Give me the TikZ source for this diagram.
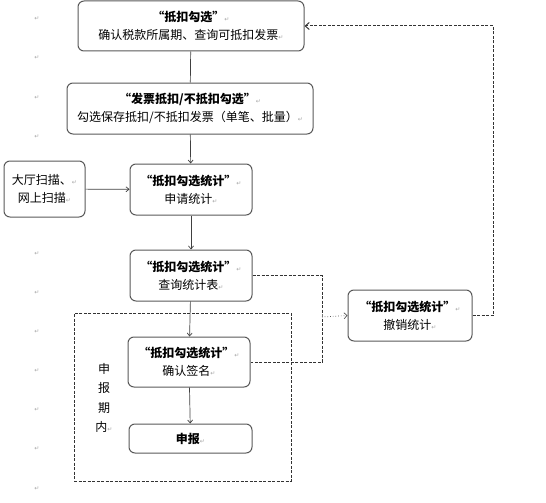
\documentclass[tikz,border=0pt]{standalone}
\usepackage{fontspec}
\setmainfont{Noto Sans CJK SC}
\newfontfamily\markfont{DejaVu Sans}
\usetikzlibrary{arrows.meta}
\newcommand\enterm{{\markfont\fontsize{6}{6}\selectfont\color{gray!70}↵}}
\begin{document}
\begin{tikzpicture}[x=1pt, y=-1pt,
        box/.style={draw=black!65, line width=1pt, rounded corners=6pt, fill=white,
            align=center, inner sep=0pt, font=\fontsize{12}{18}\selectfont},
        arr/.style={draw=black!75, line width=0.7pt, -{Straight Barb[length=3pt,width=5pt]}},
        dline/.style={draw=black!80, line width=1pt, dash pattern=on 3pt off 1.5pt},
        dotline/.style={draw=black!65, line width=0.7pt, dotted, -{Straight Barb[length=3pt,width=6pt]}}]
        \useasboundingbox (0,0) rectangle (546,503);

        % paragraph marks in the margin
        \foreach \i in {0,1,2,3,6,7,8,9,10,11,12}
            \node at (37, 19+39.1*\i) {\enterm};

        % dashed region
        \node[dline, minimum width=217pt, minimum height=168pt] (region) at (182.5,397) {};
        \node[align=center, font=\fontsize{12}{19.5}\selectfont] (period) at (104,398) {申\\报\\期\\内\enterm};

        \node[box, minimum width=226pt, minimum height=50pt] (gouxuan) at (191,26)
            {\textbf{“抵扣勾选”}\enterm\\确认税款所属期、查询可抵扣发票\enterm};
        \node[box, minimum width=246pt, minimum height=51pt] (fapiao) at (190,108.5)
            {\textbf{“发票抵扣/不抵扣勾选”}\enterm\\勾选保存抵扣/不抵扣发票（单笔、批量）\enterm};
        \node[box, minimum width=81pt, minimum height=56pt] (scan) at (44.5,189)
            {大厅扫描、\enterm\\网上扫描\enterm};
        \node[box, minimum width=122pt, minimum height=51pt] (shenqing) at (191,189.5)
            {\textbf{“抵扣勾选统计”}\enterm\\申请统计\enterm};
        \node[box, minimum width=122pt, minimum height=51pt] (chaxun) at (191,275.5)
            {\textbf{“抵扣勾选统计”}\enterm\\查询统计表\enterm};
        \node[box, minimum width=122pt, minimum height=50pt] (qianming) at (189,362)
            {\textbf{“抵扣勾选统计”}\enterm\\确认签名\enterm};
        \node[box, minimum width=123pt, minimum height=29pt] (shenbao) at (190.5,438.5)
            {\textbf{申报}\enterm};
        \node[box, minimum width=124pt, minimum height=51pt] (chexiao) at (410,315.5)
            {\textbf{“抵扣勾选统计”}\enterm\\撤销统计\enterm};

        \coordinate (join) at (322,317);
        \coordinate (back) at (493,300);

        \draw[draw=black!75, line width=0.7pt] (gouxuan) -- (fapiao);
        \draw[arr] (fapiao) -- (shenqing);
        \draw[arr] (scan) -- (shenqing);
        \draw[arr] (shenqing) -- (chaxun);
        \draw[arr] (chaxun) -- (qianming);
        \draw[arr] (qianming) -- (shenbao);

        \draw[dline] (chaxun.east) -| (join) |- (qianming.east);
        \draw[dotline] (join) -- (chexiao.west);
        \draw[dline, -{Straight Barb[length=4pt,width=7pt]}] (chexiao.east) -| (back) |- (gouxuan.east);
    \end{tikzpicture}
\end{document}
